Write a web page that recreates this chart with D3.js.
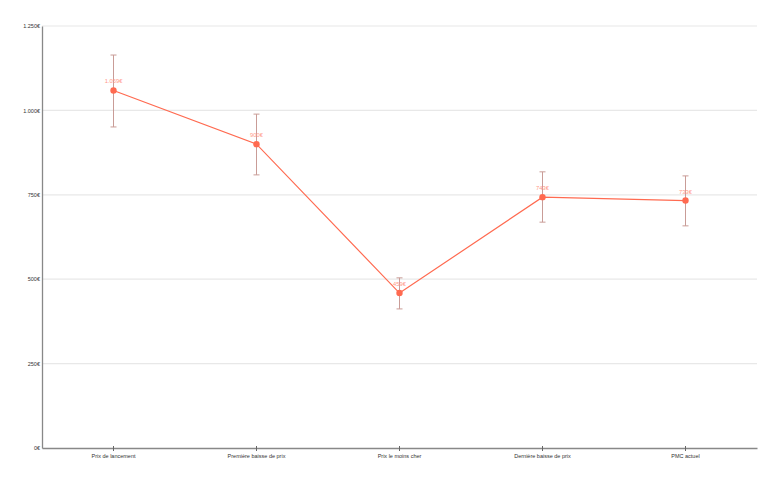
<!DOCTYPE html>
<html><head><meta charset="utf-8">
<script src="https://cdn.jsdelivr.net/npm/d3@7"></script>
<style>body{margin:0;background:#fff;font-family:"Liberation Sans",Arial,sans-serif}</style>
</head><body>
<svg id="c" width="782" height="483"></svg>
<script>
const categories = ["Prix de lancement","Première baisse de prix","Prix le moins cher","Dernière baisse de prix","PMC actuel"];
const values = [1059, 900, 459, 743, 733];
const errLow = [951, 809, 412, 669, 658];
const errHigh = [1164, 989, 504, 818, 806];
const yTicks = [0, 250, 500, 750, 1000, 1250];

const svg = d3.select("#c");
const m = {l:42, r:25, t:26, b:35};
const W = 782, H = 483;
const x = d3.scaleBand().domain(categories).range([m.l, W - m.r]).padding(0);
const y = d3.scaleLinear().domain([0, 1250]).range([H - m.b, m.t]);
const cx = d => x(d) + x.bandwidth()/2;
const fmt = v => d3.formatLocale({decimal:",", thousands:".", grouping:[3], currency:["","€"]}).format(",d")(v) + "€";

// gridlines
svg.append("g").selectAll("line").data(yTicks.filter(t=>t>0)).join("line")
  .attr("x1", m.l).attr("x2", W - m.r)
  .attr("y1", d=>y(d)).attr("y2", d=>y(d))
  .attr("stroke", "#e8e8e8").attr("stroke-width", 1.2);

// y axis
const ya = svg.append("g").attr("transform", `translate(${m.l},0)`)
  .call(d3.axisLeft(y).tickValues(yTicks).tickFormat(fmt).tickSize(0).tickSizeOuter(0).tickPadding(2));
ya.select(".domain").attr("stroke", "#888").attr("stroke-width", 1.3);
ya.selectAll("text").attr("font-size", 5.5).attr("fill", "#333");

// x axis
const xa = svg.append("g").attr("transform", `translate(0,${H - m.b})`)
  .call(d3.axisBottom(x).tickSize(4).tickSizeOuter(0));
xa.select(".domain").attr("stroke", "#888").attr("stroke-width", 1.3);
xa.selectAll(".tick line").attr("stroke", "#666").attr("y1", -2).attr("y2", 3);
xa.selectAll("text").attr("font-size", 5.5).attr("fill", "#333").attr("dy", "0.5em");

const data = categories.map((c,i)=>({c, v:values[i], lo:errLow[i], hi:errHigh[i]}));

// line
svg.append("path").datum(data)
  .attr("fill","none").attr("stroke","#ff6a50").attr("stroke-width",1.2)
  .attr("d", d3.line().x(d=>cx(d.c)).y(d=>y(d.v)));

// error bars
const eb = svg.append("g").attr("stroke","#c4928c").attr("stroke-width",1).attr("opacity",0.9);
eb.selectAll(".v").data(data).join("line")
  .attr("x1",d=>cx(d.c)).attr("x2",d=>cx(d.c)).attr("y1",d=>y(d.hi)).attr("y2",d=>y(d.lo));
eb.selectAll(".t").data(data).join("line")
  .attr("x1",d=>cx(d.c)-3).attr("x2",d=>cx(d.c)+3).attr("y1",d=>y(d.hi)).attr("y2",d=>y(d.hi));
eb.selectAll(".b").data(data).join("line")
  .attr("x1",d=>cx(d.c)-3).attr("x2",d=>cx(d.c)+3).attr("y1",d=>y(d.lo)).attr("y2",d=>y(d.lo));

// points
svg.append("g").selectAll("circle").data(data).join("circle")
  .attr("cx",d=>cx(d.c)).attr("cy",d=>y(d.v)).attr("r",3.2).attr("fill","#ff6a50");

// labels
svg.append("g").selectAll("text").data(data).join("text")
  .attr("x",d=>cx(d.c)).attr("y",d=>y(d.v)-7).attr("text-anchor","middle")
  .attr("font-size",5.8).attr("fill","#ff9a88").text(d=>fmt(d.v));
</script>
</body></html>
